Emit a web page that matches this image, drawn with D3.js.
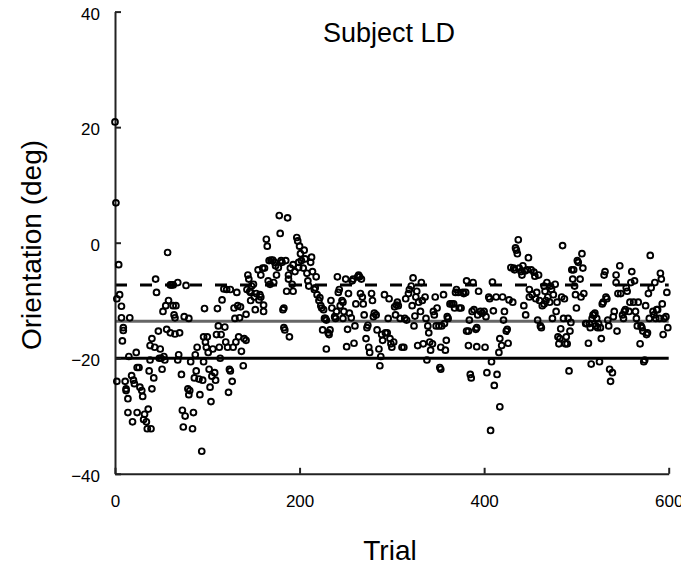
<!DOCTYPE html>
<html><head><meta charset="utf-8">
<script src="https://cdn.jsdelivr.net/npm/d3@7"></script>
<style>
body{margin:0;background:#fff}
svg{display:block}
text{font-family:"Liberation Sans",Arial,Helvetica,sans-serif;fill:#000}
</style>
</head><body>
<svg id="chart" width="681" height="567"></svg>
<script>
const trial = [
0,1,2,2,4,5,7,7,8,9,9,11,12,12,14,14,15,16,18,19,20,
21,23,24,24,26,27,29,30,31,32,34,35,36,37,38,38,39,40,40,42,43,
44,45,47,48,49,50,51,52,53,54,55,56,57,58,60,60,61,63,
63,64,65,65,66,68,68,69,70,72,73,74,75,76,77,79,80,80,
81,82,84,85,86,87,88,89,91,92,94,95,96,96,97,98,99,
100,101,102,103,104,105,106,108,109,110,111,112,113,114,115,116,118,119,120,
121,122,123,124,125,125,127,128,129,130,131,132,133,134,135,136,137,139,140,142,
142,143,144,145,146,147,147,148,150,151,152,153,155,156,157,158,158,160,161,161,
162,164,165,166,167,168,169,171,172,173,174,175,177,178,179,180,181,182,183,183,184,185,186,187,188,188,189,190,
192,193,193,195,197,198,199,199,200,201,202,204,205,206,208,209,210,212,213,
214,216,217,218,219,221,222,223,224,225,226,227,228,229,229,231,232,233,
234,235,238,239,240,241,242,243,244,246,247,247,248,250,251,252,
253,254,256,257,258,259,260,261,263,264,265,266,267,268,269,
270,272,273,274,275,276,278,279,280,281,283,284,286,287,288,289,
290,292,293,295,296,297,298,299,300,302,303,304,305,306,307,
309,311,313,314,315,316,318,319,321,322,323,324,325,326,327,328,329,
331,332,333,334,336,337,338,339,340,341,342,344,345,346,347,348,349,
351,352,353,353,354,356,357,358,359,360,361,363,365,367,368,369,
370,372,373,375,377,378,380,381,381,383,383,384,385,386,387,388,389,
391,392,392,393,394,396,398,400,401,402,403,405,406,407,408,409,
410,411,413,414,416,417,417,419,420,421,422,424,425,426,427,429,431,
432,433,434,435,436,437,438,440,441,442,443,444,445,447,448,449,449,
451,452,454,455,456,457,458,459,460,461,462,463,465,465,466,467,468,469,
471,472,473,474,475,477,478,479,480,481,482,483,484,485,486,487,488,489,
490,491,492,493,494,495,496,497,498,499,500,501,502,504,505,506,507,508,
510,511,513,514,515,516,517,518,519,520,521,522,523,524,525,526,527,528,529,
530,531,532,533,534,535,536,537,539,540,541,543,543,544,545,547,548,
550,551,552,553,554,555,557,558,559,560,562,563,564,565,566,567,569,
570,571,572,573,574,575,576,577,578,579,580,581,583,584,585,586,587,588,590,591,592,593,594,595,597,598,599
];
const orientation = [
20.9,6.9,-9.7,-24,-3.8,-9,-11,-13,-17,-14.7,-15.2,-24,-25.3,-25.6,-27,-29.4,-19.7,-13,-23,-31,-23.8,
-24.4,-19,-29.4,-21.6,-21.6,-25,-25.6,-26.6,-30.6,-29.7,-31,-32.2,-28.8,-22.2,-17.8,-20.3,-32.2,-16.6,-25.3,-23.4,-18.1,
-6.3,-8.6,-15.3,-20,-18.4,-20,-21.9,-11.9,-19.7,-20.3,-10.9,-15,-1.7,-10,-7.3,-15.6,-7.3,-7.3,
-10.9,-12.5,-13,-15.8,-10.9,-6.9,-20.3,-19.4,-15.6,-22.8,-29,-31.9,-12.8,-30,-7.4,-25.3,-26.3,-13.1,
-25.6,-20.6,-32.2,-29.4,-23.4,-19.4,-22.2,-18.1,-23.6,-26.3,-36.1,-23.8,-20.6,-16.3,-11.4,-17.2,-18.1,
-16.3,-19,-21.9,-25,-27.5,-23.1,-18.4,-22.5,-23.8,-15.9,-11.4,-14.4,-18.1,-20,-15.9,-9.9,-8,-14.6,-17.2,
-8.1,-18.1,-25.9,-21.9,-22.2,-8.1,-24,-18.1,-11.3,-13.1,-17.2,-8.6,-10.9,-16.3,-13,-11.1,-18.8,-21.3,-16.6,-16.9,
-12.4,-8.1,-5.6,-6.3,-8.4,-8.6,-10,-7.5,-7.2,-9.4,-11.6,-8.8,-4.7,-9.9,-9,-9.4,-5.6,-4.4,-10.8,-11.9,
-4.4,0.6,-0.6,-6.6,-3.1,-7.2,-3,-3,-6.9,-3.4,-4,-5.6,-4.3,4.7,1.6,-3.1,-3.4,-11.6,-11.3,-14.7,-15.1,-3.1,-8.4,4.3,-6.3,-5.6,-16.3,-4.4,
-7.2,-8.4,-3.8,-5,0.9,0.3,-3.4,-4.3,-0.6,-1.9,-3.1,-4.4,-1.3,-2.8,-5.3,-6.6,-7.5,-3.4,-2.5,
-5,-8.1,-7.8,-5.9,-9,-10,-9.5,-10.9,-11.3,-15.1,-11.6,-13.1,-13.1,-13.4,-18.4,-15.6,-15.9,-15.1,
-10,-11.3,-12.8,-13.1,-11.9,-5.9,-8.6,-8.1,-10.9,-10,-10.3,-13.1,-11.9,-6.3,-18,-15,
-8.8,-12.2,-13,-6.6,-6.3,-17.4,-14.4,-10.6,-5.9,-5.6,-5.9,-8.8,-6.3,-9.4,-10.6,
-12.5,-16.6,-14.7,-14.3,-18.1,-19,-8.8,-10,-12.8,-12.2,-12.5,-15.1,-18.4,-21.3,-19.7,-15.9,
-16.9,-9,-15.6,-15.6,-13.1,-9.7,-16.6,-17.5,-18.1,-17.2,-11.1,-12.5,-10.8,-10.3,-10.9,
-13.1,-18.1,-18.1,-13.1,-9.7,-13.4,-8.8,-8.1,-7.5,-10.9,-6.1,-14.4,-12.7,-9.4,-8.4,-17.8,-10.3,
-11.9,-6.9,-10,-17.5,-9.4,-13.1,-20.3,-14.4,-15.6,-17.2,-18.6,-17.5,-11.9,-12.5,-9.4,-14.4,-11.3,
-14.4,-21.6,-21.9,-18.1,-14.4,-9,-14,-18.6,-16.9,-12.8,-13.1,-10.6,-10.6,-10.6,-11.3,-8.6,
-8.1,-8.6,-11.3,-11.3,-8.6,-8.8,-8.6,-6.6,-15.3,-15.3,-17.8,-13.4,-22.8,-23.4,-11.9,-6.9,-11.6,
-15,-14.7,-18,-12.5,-8.4,-11.9,-12.2,-11.9,-18.1,-12.8,-22.5,-9.4,-9.7,-32.5,-20.6,-6.8,
-11.8,-24.7,-9.4,-22.8,-19,-28.4,-16.6,-17.8,-9.4,-13.4,-11.9,-15.3,-15,-17.4,-9.9,-4.3,-10.3,
-4.4,-4.7,-0.9,-1.3,-1.9,0.5,-4.4,-5,-5.6,-4,-10.9,-4.9,-12.5,-4.7,-2.6,-8.1,-9.4,
-4.7,-9,-5.1,-5.8,-9.7,-8.6,-13.4,-5.6,-10,-14.4,-14.7,-10.9,-7.5,-10.6,-8.4,-10,-6.9,-9.4,
-10.3,-7.5,-8.1,-13.1,-9,-7.2,-11.9,-10.3,-16.3,-17.5,-16.6,-14.9,-9.4,-0.5,-13.1,-9.7,-17.5,-16.3,
-17.5,-13.1,-22.2,-15.3,-13.8,-4.7,-6.3,-4.7,-7.5,-9,-11.3,-3.1,-3.4,-6.3,-9.4,-1.9,-4.4,-8.8,
-14,-14,-17.4,-14,-14.7,-21,-13.1,-12.5,-12.5,-12.2,-14.4,-13.1,-14.7,-14,-20.6,-14.7,-16.6,-10.6,-10.3,
-5.6,-5,-9.4,-9.7,-13.4,-14.4,-21.9,-24,-22.5,-12.8,-11.9,-5.6,-6.9,-15.3,-8.8,-4,-8.8,
-12.5,-13.1,-11.9,-11.6,-7.8,-8.4,-11.9,-10.3,-6.9,-5,-10.3,-6.6,-11.9,-13.1,-14.4,-10.3,-17.5,
-14.4,-14.7,-15.3,-20.6,-20.3,-10.9,-15.9,-15.6,-8.8,-13.1,-2.2,-7.8,-11.9,-12.5,-6.9,-13.1,-11.6,-11.6,-13.1,-5.3,-6.3,-10.6,-15.9,-13.1,-12.8,-8.6,-14.7
];
const xTicks = [0, 200, 400, 600];
const yTicks = [-40, -20, 0, 20, 40];
const dashedLevel = -7.3;
const meanLevel = -13.6;
const lowerLevel = -20;
const titleText = "Subject LD";
const xLabel = "Trial";
const yLabel = "Orientation (deg)";

const svg = d3.select("#chart");
const x = d3.scaleLinear().domain([0, 600]).range([115, 668.7]);
const y = d3.scaleLinear().domain([-40, 40]).range([473.8, 11.6]);

// reference lines
const refs = [
  {v: dashedLevel, color: "#000", dash: "12,13"},
  {v: meanLevel, color: "#666", dash: null},
  {v: lowerLevel, color: "#000", dash: null}
];
svg.selectAll("line.ref").data(refs).join("line")
  .attr("class", "ref")
  .attr("x1", x(0)).attr("x2", x(600))
  .attr("y1", d => y(d.v)).attr("y2", d => y(d.v))
  .attr("stroke", d => d.color)
  .attr("stroke-width", 3)
  .attr("stroke-dasharray", d => d.dash);

// axes
const yAxis = d3.axisLeft(y).tickValues(yTicks).tickSizeInner(-6).tickSizeOuter(0).tickPadding(15);
const gy = svg.append("g").attr("transform", `translate(${x(0)},0)`).call(yAxis);
const xAxis = d3.axisBottom(x).tickValues(xTicks).tickSizeInner(-6).tickSizeOuter(0).tickPadding(21);
const gx = svg.append("g").attr("transform", `translate(0,${y(-40)})`).call(xAxis);
[gx, gy].forEach(g => {
  g.select(".domain").attr("stroke", "#222").attr("stroke-width", 2);
  g.selectAll(".tick line").attr("stroke", "#222").attr("stroke-width", 2);
  g.selectAll(".tick text").attr("font-size", 17).attr("font-family", '"Liberation Sans",Arial,sans-serif').attr("fill", "#000");
});
gy.selectAll(".tick text").attr("dy", "0.45em");

// points
const pts = trial.map((t, i) => ({t, v: orientation[i]}));
svg.append("g").selectAll("circle").data(pts).join("circle")
  .attr("cx", d => x(d.t)).attr("cy", d => y(d.v))
  .attr("r", 2.9)
  .attr("fill", "none")
  .attr("stroke", "#000")
  .attr("stroke-width", 1.9);

// labels
svg.append("text").attr("x", 389).attr("y", 42).attr("text-anchor", "middle")
  .attr("font-size", 27).text(titleText);
svg.append("text").attr("x", 390).attr("y", 560).attr("text-anchor", "middle")
  .attr("font-size", 28).text(xLabel);
svg.append("text").attr("transform", "translate(41,245) rotate(-90)").attr("text-anchor", "middle")
  .attr("font-size", 28).text(yLabel);
</script>
</body></html>
